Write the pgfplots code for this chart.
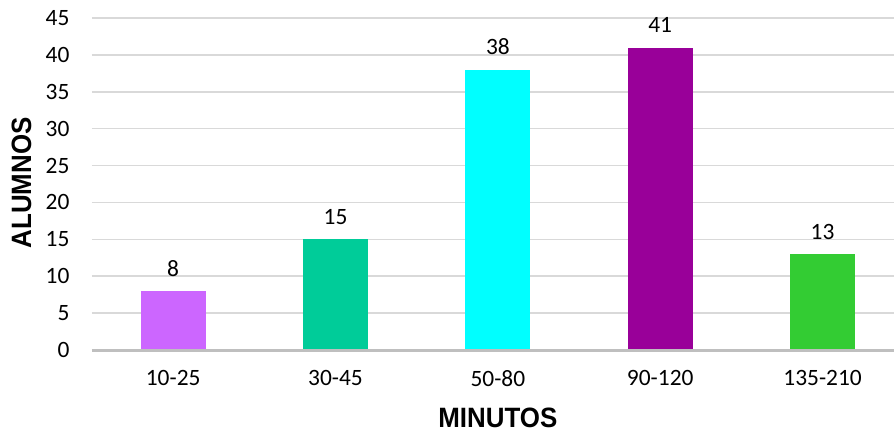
\documentclass[border=0pt]{standalone}
\usepackage{fontspec}
\setmainfont{Carlito}
\newfontfamily\arialf{Liberation Sans}
\usepackage{graphicx}
\usepackage{pgfplots}
\pgfplotsset{compat=1.18}
\definecolor{c1}{HTML}{CC66FF}
\definecolor{c2}{HTML}{00CC99}
\definecolor{c3}{HTML}{00FFFF}
\definecolor{c4}{HTML}{990099}
\definecolor{c5}{HTML}{33CC33}
\definecolor{gridc}{HTML}{D9D9D9}
\definecolor{axc}{HTML}{BFBFBF}
\begin{document}
\begin{tikzpicture}
\begin{axis}[
  scale only axis,
  width=802bp, height=332bp,
  xmin=-0.5, xmax=4.44,
  ymin=0, ymax=45,
  ytick={0,5,...,45},
  xtick={0,1,2,3,4},
  xticklabels={10-25,30-45,50-80,90-120,135-210},
  ybar, bar width=65bp, bar shift=0pt,
  axis line style={draw=none},
  axis x line*=bottom,
  axis y line*=left,
  major tick length=0pt,
  ymajorgrids, grid style={gridc, line width=1.5bp},
  tick label style={font=\fontsize{23.5}{26}\selectfont},
  /pgf/number format/assume math mode=true,
  yticklabel style={xshift=-19bp},
  xticklabel style={yshift=-17bp},
  xlabel={\scalebox{1}[1.08]{MINUTOS}}, ylabel={\scalebox{1}[1.08]{ALUMNOS}},
  label style={font=\arialf\bfseries\fontsize{26}{30}\selectfont},
  xlabel style={at={(axis description cs:0.506,-0.205)}, anchor=center},
  ylabel style={at={(axis description cs:-0.088,0.503)}, anchor=center},
  nodes near coords,
  nodes near coords style={font=\fontsize{23.5}{26}\selectfont, black, yshift=11bp},
  clip=false,
]
\addplot[fill=c1, draw=none] coordinates {(0,8)};
\addplot[fill=c2, draw=none] coordinates {(1,15)};
\addplot[fill=c3, draw=none] coordinates {(2,38)};
\addplot[fill=c4, draw=none] coordinates {(3,41)};
\addplot[fill=c5, draw=none] coordinates {(4,13)};
\draw[axc, line width=3bp] (axis cs:-0.5,0) -- (axis cs:4.44,0);
\end{axis}
\pgfresetboundingbox
\path (-92bp,-82bp) rectangle ++(894bp,432bp);
\end{tikzpicture}
\end{document}
